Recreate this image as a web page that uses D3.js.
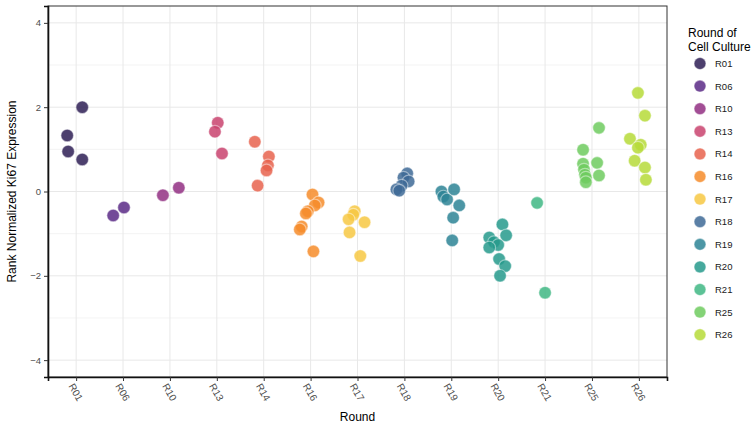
<!DOCTYPE html>
<html>
<head>
<meta charset="utf-8">
<script src="https://cdn.jsdelivr.net/npm/d3@7"></script>
<style>
  body { margin: 0; background: #fff; }
  text { font-family: "Liberation Sans", Arial, sans-serif; }
</style>
</head>
<body>
<div id="chart"></div>
<script>
// rounds and colours
const rounds = ["R01","R06","R10","R13","R14","R16","R17","R18","R19","R20","R21","R25","R26"];
const colors = ["#2e1f55","#5b2a86","#922f82","#c9436f","#e8634e","#f68c2a","#f7c843",
                "#3e6a96","#2d8495","#269a8c","#3fb784","#6fcb5f","#b6da38"];

// expression values per round
const R01 = [2.0, 1.33, 0.95, 0.76];
const R06 = [-0.57, -0.38];
const R10 = [-0.09, 0.09];
const R13 = [1.63, 1.42, 0.9];
const R14 = [1.18, 0.83, 0.62, 0.5, 0.14];
const R16 = [-0.07, -0.26, -0.33, -0.47, -0.52, -0.83, -0.9, -1.42];
const R17 = [-0.47, -0.55, -0.66, -0.73, -0.97, -1.53];
const R18 = [0.43, 0.33, 0.24, 0.14, 0.05, 0.02];
const R19 = [0.0, -0.12, -0.19, 0.05, -0.33, -0.62, -1.16];
const R20 = [-0.78, -1.04, -1.09, -1.2, -1.27, -1.33, -1.6, -1.77, -2.0];
const R21 = [-0.27, -2.4];
const R25 = [1.51, 0.99, 0.66, 0.68, 0.52, 0.4, 0.38, 0.33, 0.22];
const R26 = [2.34, 1.8, 1.25, 1.11, 1.04, 0.73, 0.57, 0.28];

// horizontal jitter (in category units) as seen in the picture
const J01 = [0.13, -0.19, -0.17, 0.13];
const J06 = [-0.21, 0.02];
const J10 = [-0.15, 0.19];
const J13 = [0.02, -0.04, 0.11];
const J14 = [-0.19, 0.11, 0.09, 0.06, -0.13];
const J16 = [0.04, 0.17, 0.09, -0.06, -0.1, -0.19, -0.23, 0.06];
const J17 = [-0.06, -0.09, -0.19, 0.15, -0.17, 0.06];
const J18 = [0.06, -0.02, 0.09, -0.06, -0.17, -0.11];
const J19 = [-0.21, -0.17, -0.09, 0.06, 0.17, 0.04, 0.02];
const J20 = [0.09, 0.17, -0.19, -0.09, 0, -0.19, 0.02, 0.15, 0.04];
const J21 = [-0.17, 0.0];
const J25 = [0.15, -0.19, -0.19, 0.11, -0.17, -0.15, 0.15, -0.13, -0.13];
const J26 = [-0.02, 0.13, -0.19, 0.04, -0.02, -0.09, 0.13, 0.15];

const yTicks = [-4, -2, 0, 2, 4];

const values = [R01,R06,R10,R13,R14,R16,R17,R18,R19,R20,R21,R25,R26];
const jitter = [J01,J06,J10,J13,J14,J16,J17,J18,J19,J20,J21,J25,J26];

const data = [];
rounds.forEach((r, i) => {
  values[i].forEach((v, k) => data.push({ round: r, value: v, jit: jitter[i][k] }));
});

let width = 756, height = 424,
    margin = ({ top: 6, right: 89, bottom: 47, left: 48 });

const svg = d3.select("#chart").append("svg")
  .attr("width", width).attr("height", height);

const x = d3.scalePoint()
  .domain(rounds)
  .range([margin.left, width - margin.right])
  .padding(0.6);
const step = x.step();

const y = d3.scaleLinear()
  .domain([-4.4, 4.4])
  .range([height - margin.bottom, margin.top]);

const color = d3.scaleOrdinal().domain(rounds).range(colors);

const pl = margin.left, pr = width - margin.right, pt = margin.top, pb = height - margin.bottom;

// grid: minor then major
svg.append("g")
  .selectAll("line")
  .data([-3, -1, 1, 3])
  .join("line")
  .attr("x1", pl).attr("x2", pr)
  .attr("y1", d => y(d)).attr("y2", d => y(d))
  .attr("stroke", "#f0f0f0").attr("stroke-width", 0.8);

svg.append("g")
  .selectAll("line")
  .data(yTicks)
  .join("line")
  .attr("x1", pl).attr("x2", pr)
  .attr("y1", d => y(d)).attr("y2", d => y(d))
  .attr("stroke", "#e8e8e8").attr("stroke-width", 1);

svg.append("g")
  .selectAll("line")
  .data(rounds)
  .join("line")
  .attr("x1", d => x(d)).attr("x2", d => x(d))
  .attr("y1", pt).attr("y2", pb)
  .attr("stroke", "#e8e8e8").attr("stroke-width", 1);

// points
svg.append("g")
  .selectAll("circle")
  .data(data)
  .join("circle")
  .attr("cx", d => x(d.round) + d.jit * step)
  .attr("cy", d => y(d.value))
  .attr("r", 6.3)
  .attr("fill", d => color(d.round))
  .attr("fill-opacity", 0.85)
  .attr("stroke", "#ffffff")
  .attr("stroke-opacity", 0.45)
  .attr("stroke-width", 1.2);

// panel border
svg.append("rect")
  .attr("x", pl).attr("y", pt)
  .attr("width", pr - pl).attr("height", pb - pt)
  .attr("fill", "none").attr("stroke", "#333").attr("stroke-width", 1);

// y axis
const yAxis = svg.append("g")
  .attr("transform", `translate(${pl},0)`)
  .call(d3.axisLeft(y).tickValues(yTicks).tickSize(4).tickPadding(3).tickFormat(d => d < 0 ? "\u2212" + Math.abs(d) : d));
yAxis.select(".domain").attr("stroke", "#111").attr("stroke-width", 1.6);
yAxis.selectAll(".tick line").attr("stroke", "#333");
yAxis.selectAll(".tick text").attr("fill", "#4d4d4d").style("font-size", "9.5px");

// x axis
const xAxis = svg.append("g")
  .attr("transform", `translate(0,${pb})`)
  .call(d3.axisBottom(x).tickSize(4).tickFormat(""));
xAxis.select(".domain").attr("stroke", "#111").attr("stroke-width", 1.6);
xAxis.selectAll(".tick line").attr("stroke", "#333");

svg.append("g")
  .selectAll("text")
  .data(rounds)
  .join("text")
  .attr("transform", d => `translate(${x(d) - 8},${pb + 9}) rotate(60)`)
  .attr("text-anchor", "start")
  .attr("fill", "#4d4d4d")
  .style("font-size", "10px")
  .text(d => d);

// axis titles
svg.append("text")
  .attr("x", (pl + pr) / 2).attr("y", 421)
  .attr("text-anchor", "middle")
  .style("font-size", "12px")
  .text("Round");

svg.append("text")
  .attr("transform", `translate(16,${(pt + pb) / 2}) rotate(-90)`)
  .attr("text-anchor", "middle")
  .style("font-size", "12px")
  .text("Rank Normalized Ki67 Expression");

// legend
const legend = svg.append("g").attr("transform", "translate(688,0)");
legend.append("text").attr("x", 0).attr("y", 37).style("font-size", "12px").text("Round of");
legend.append("text").attr("x", 0).attr("y", 51).style("font-size", "12px").text("Cell Culture");

const item = legend.selectAll("g.item")
  .data(rounds)
  .join("g")
  .attr("class", "item")
  .attr("transform", (d, i) => `translate(0,${63.5 + i * 22.6})`);

item.append("circle")
  .attr("cx", 12).attr("cy", 0).attr("r", 6)
  .attr("fill", d => color(d))
  .attr("fill-opacity", 0.85)
  .attr("stroke", "#ffffff").attr("stroke-opacity", 0.45).attr("stroke-width", 1.2);

item.append("text")
  .attr("x", 27).attr("y", 3.5)
  .attr("fill", "#1a1a1a")
  .style("font-size", "9.5px")
  .text(d => d);
</script>
</body>
</html>
